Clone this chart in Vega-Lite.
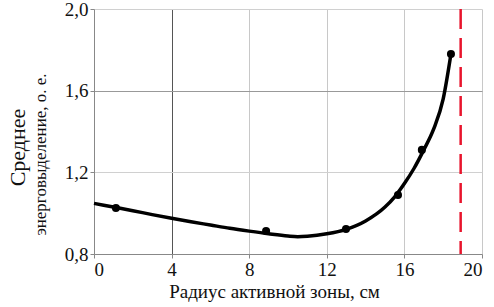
{
  "$schema": "https://vega.github.io/schema/vega-lite/v6.json",
  "width": 388,
  "height": 245,
  "autosize": {"type": "none"},
  "padding": {"left": 94, "top": 9, "right": 12, "bottom": 53},
  "background": "white",
  "config": {
    "view": {"stroke": null},
    "font": "Liberation Serif",
    "axis": {"labelColor": "#111", "titleColor": "#111", "titleFontWeight": "normal"}
  },
  "datasets": {
    "curve": [
      {"r": 0, "v": 1.048}, {"r": 1, "v": 1.03}, {"r": 2, "v": 1.012}, {"r": 3, "v": 0.993},
      {"r": 4, "v": 0.975}, {"r": 5, "v": 0.958}, {"r": 6, "v": 0.942}, {"r": 7, "v": 0.926},
      {"r": 8, "v": 0.912}, {"r": 9, "v": 0.899}, {"r": 10, "v": 0.888}, {"r": 10.5, "v": 0.885},
      {"r": 11, "v": 0.887}, {"r": 12, "v": 0.899}, {"r": 13, "v": 0.921}, {"r": 14, "v": 0.962},
      {"r": 15, "v": 1.03}, {"r": 15.5, "v": 1.08}, {"r": 16, "v": 1.145}, {"r": 16.5, "v": 1.22},
      {"r": 17, "v": 1.31}, {"r": 17.5, "v": 1.41}, {"r": 18, "v": 1.56}, {"r": 18.4, "v": 1.78}
    ],
    "points": [
      {"r": 1.13, "v": 1.025}, {"r": 8.87, "v": 0.913}, {"r": 12.99, "v": 0.922},
      {"r": 15.67, "v": 1.089}, {"r": 16.9, "v": 1.31}, {"r": 18.4, "v": 1.78}
    ],
    "limit": [{"r": 18.9}]
  },
  "layer": [
    {
      "data": {"name": "curve"},
      "mark": {"type": "line", "color": "black", "strokeWidth": 3.5, "interpolate": "monotone"},
      "encoding": {
        "x": {
          "field": "r", "type": "quantitative",
          "scale": {"domain": [0, 20], "nice": false, "zero": false},
          "axis": {
            "values": [0, 4, 8, 12, 16, 20],
            "labelFont": "Liberation Serif", "titleFont": "Liberation Serif",
            "title": "Радиус активной зоны, см",
            "titleFontSize": 19, "titlePadding": 3, "titleX": 180,
            "labelFontSize": 19, "labelPadding": 2, "tickSize": 4, "tickColor": "#888",
            "domainColor": "#888",
            "gridColor": {"condition": {"test": "datum.value === 4", "value": "#555"}, "value": "#c8c8c8"}
          }
        },
        "y": {
          "field": "v", "type": "quantitative",
          "scale": {"domain": [0.8, 2.0], "nice": false, "zero": false},
          "axis": {
            "orient": "left",
            "values": [0.8, 1.2, 1.6, 2.0],
            "labelFont": "Liberation Serif", "titleFont": "Liberation Serif",
            "labelExpr": "replace(format(datum.value, '.1f'), '.', ',')",
            "labelFontSize": 19, "labelPadding": 2, "tickSize": 4, "tickColor": "#888",
            "domainColor": "#888",
            "gridColor": {"condition": {"test": "datum.value === 1.6", "value": "#999"}, "value": "#d0d0d0"},
            "title": "энерговыделение, о. е.",
            "titleFontSize": 17, "titleAngle": -90, "titleAlign": "center", "titleBaseline": "middle",
            "titleX": -54, "titleY": 145
          }
        }
      }
    },
    {
      "data": {"name": "points"},
      "mark": {"type": "point", "filled": true, "color": "black", "opacity": 1, "size": 65},
      "encoding": {
        "x": {"field": "r", "type": "quantitative"},
        "y": {
          "field": "v", "type": "quantitative",
          "axis": {
            "orient": "left",
            "labels": false, "ticks": false, "domain": false, "grid": false,
            "titleFont": "Liberation Serif",
            "title": "Среднее", "titleFontSize": 22, "titleAngle": -90, "titleAlign": "center", "titleBaseline": "middle",
            "titleX": -77, "titleY": 138
          }
        }
      }
    },
    {
      "data": {"name": "limit"},
      "mark": {"type": "rule", "color": "#e8142c", "strokeWidth": 2.5, "strokeDash": [20, 9]},
      "encoding": {"x": {"field": "r", "type": "quantitative"}}
    }
  ],
  "resolve": {"axis": {"y": "independent"}}
}
